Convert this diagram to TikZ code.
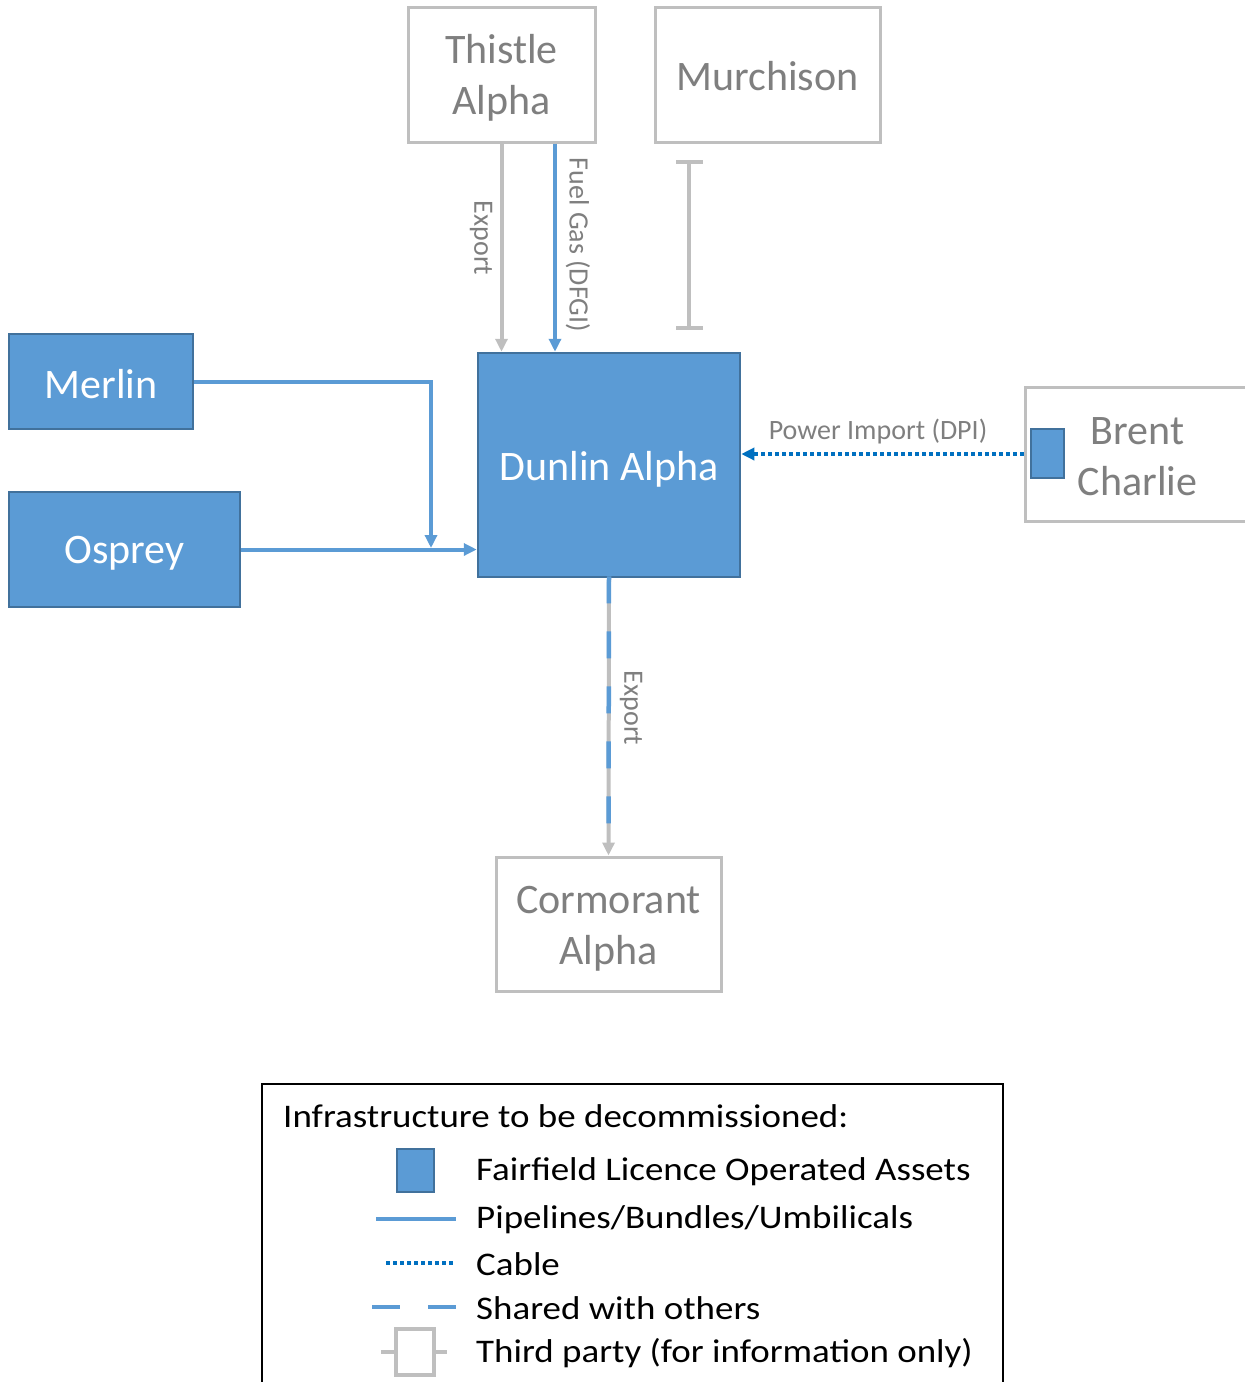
\documentclass[tikz,border=0pt]{standalone}
\usepackage{fontspec}
\setmainfont{Carlito}
\newfontfamily\legfont[FakeStretch=1.12]{Carlito}
\usetikzlibrary{arrows.meta}
\definecolor{fblue}{HTML}{5B9BD5}
\definecolor{fborder}{HTML}{41719C}
\definecolor{tgray}{HTML}{BFBFBF}
\definecolor{txtgray}{HTML}{7F7F7F}
\definecolor{cableblue}{HTML}{0070C0}
\begin{document}
\begin{tikzpicture}[x=1pt,y=-1pt,
  asset/.style={draw=fborder, fill=fblue, line width=2.5pt, inner sep=0pt},
  third/.style={draw=tgray, fill=white, line width=3pt, inner sep=0pt},
  atext/.style={text=white, font=\fontsize{42}{51}\selectfont, inner sep=0pt, align=center, yshift=-3pt},
  ttext/.style={text=txtgray, font=\fontsize{42}{51}\selectfont, inner sep=0pt, align=center, yshift=-3pt},
  pipe/.style={fblue, line width=4pt},
  grayline/.style={tgray, line width=4pt},
  cable/.style={cableblue, line width=4pt, dash pattern=on 4pt off 3pt},
  tip/.style={-{Triangle[length=13pt,width=12pt]}},
  lbl/.style={text=txtgray, font=\fontsize{28}{32}\selectfont, inner sep=0pt},
  legtext/.style={anchor=west, inner sep=0pt, font=\legfont\fontsize{33}{40}\selectfont},
]
\useasboundingbox (0,0) rectangle (1245,1382);

% nodes
\node[third, minimum width=187pt, minimum height=135pt, label={[ttext]center:{Thistle\\Alpha}}] (thistle) at (501.5,74.5) {};
\node[third, minimum width=225pt, minimum height=135pt, label={[ttext, yshift=1pt]center:Murchison}] (murchison) at (767.5,74.5) {};
\node[asset, minimum width=184pt, minimum height=95pt, label={[atext]center:Merlin}] (merlin) at (101,381.5) {};
\node[asset, minimum width=231pt, minimum height=115pt, label={[atext, yshift=-1pt]center:Osprey}] (osprey) at (124.5,549.5) {};
\node[asset, minimum width=262pt, minimum height=224pt, label={[atext, yshift=-1pt]center:Dunlin Alpha}] (dunlin) at (609,465) {};
\node[third, minimum width=225pt, minimum height=134pt, label={[ttext]center:{Brent\\Charlie}}] (brent) at (1137.5,454) {};
\node[asset, minimum width=33pt, minimum height=49pt] (brentsq) at (1047.5,453.5) {};
\node[third, minimum width=225pt, minimum height=134pt, label={[ttext, yshift=-2pt]center:{Cormorant\\Alpha}}] (cormorant) at (608.5,924) {};

% Thistle connectors
\draw[grayline, tip] (thistle.south) -- (thistle.south |- dunlin.north);
\draw[pipe, tip] ([xshift=53.5pt]thistle.south) -- ([xshift=53.5pt]thistle.south |- dunlin.north);
\node[lbl, rotate=-90] (lexp1) at (481,238) {Export};
\node[lbl, rotate=-90] (lfuel) at (578,245) {Fuel Gas (DFGI)};

% Murchison I-bar
\draw[grayline] (689,162) -- (689,328);
\draw[grayline] (676,162) -- (703,162);
\draw[grayline] (676,328) -- (703,328);

% Merlin / Osprey
\coordinate (mj) at (431,548);
\draw[pipe, tip] (merlin.east) -| (mj);
\draw[pipe, tip] (osprey.east) -- (osprey.east -| dunlin.west);

% Power import
\draw[cable, tip] (brent.west) -- (brent.west -| dunlin.east);
\node[lbl] (lpower) at (878,432) {Power Import (DPI)};

% Export to Cormorant
\coordinate (dashend) at (608.5,830);
\draw[grayline, tip] (dunlin.south) -- (cormorant.north);
\draw[fblue, line width=4.5pt, dash pattern=on 27pt off 28pt] ([yshift=2pt]dunlin.south) -- (dashend);
\node[lbl, rotate=-90] (lexp2) at (631,708) {Export};

% Legend
\node[draw=black, line width=2pt, minimum width=741pt, minimum height=340pt, anchor=north west, inner sep=0pt] (legend) at (261,1083) {};
\node[legtext] (ltitle) at (283,1116) {Infrastructure to be decommissioned:};
\node[asset, minimum width=37pt, minimum height=43pt] (lsq) at (415.5,1170.5) {};
\node[legtext] (l1) at (476,1172) {Fairfield Licence Operated Assets};
\draw[pipe] (376,1219) -- (456,1219);
\node[legtext] (l2) at (476,1220) {Pipelines/Bundles/Umbilicals};
\draw[cable] (386,1263) -- (454,1263);
\node[legtext] (l3) at (476,1264) {Cable};
\draw[fblue, line width=4.5pt] (372,1307) -- (400,1307);
\draw[fblue, line width=4.5pt] (428,1307) -- (456,1307);
\node[legtext] (l4) at (476,1308) {Shared with others};
\draw[tgray, line width=4pt] (381,1352) -- (396,1352);
\draw[tgray, line width=4pt] (434,1352) -- (447,1352);
\node[draw=tgray, line width=4pt, minimum width=38pt, minimum height=46pt, inner sep=0pt] (lthird) at (415,1352) {};
\node[legtext] (l5) at (476,1353) {Third party (for information only)};
\end{tikzpicture}
\end{document}
